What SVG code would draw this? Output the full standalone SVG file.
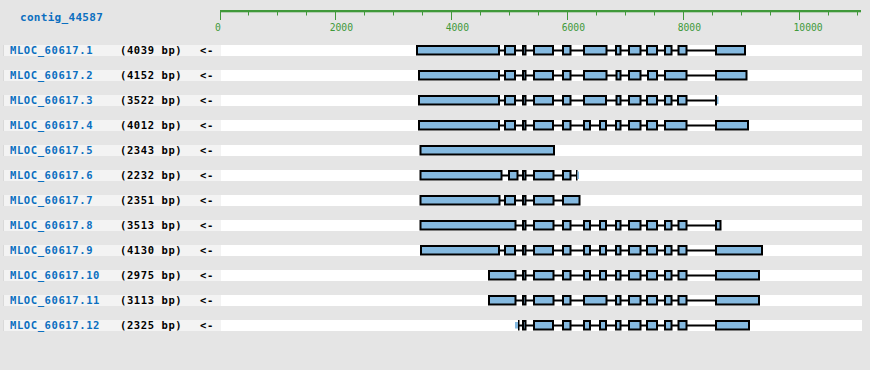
<svg xmlns="http://www.w3.org/2000/svg" width="870" height="370" viewBox="0 0 870 370">
<style>
.bg{fill:#e5e5e5}
.ls{fill:#f3f3f3}
.le{fill:#d9d9d9}
.ws{fill:#ffffff}
.ax{fill:#40993a}
.tk{stroke:#40993a;stroke-width:1;fill:none}
.tl{font-family:"DejaVu Sans Mono","Liberation Mono",monospace;font-size:9.7px;fill:#40993a}
.nm{font-family:"DejaVu Sans Mono","Liberation Mono",monospace;font-size:10.5px;font-weight:bold;letter-spacing:0.6px;fill:#0b6fc0}
.bp{font-family:"DejaVu Sans Mono","Liberation Mono",monospace;font-size:10.5px;font-weight:bold;letter-spacing:0.6px;fill:#000}
.ct{font-family:"DejaVu Sans Mono","Liberation Mono",monospace;font-size:11px;font-weight:bold;letter-spacing:0.3px;fill:#0b6fc0}
.ex{fill:#84b9e0;stroke:#000;stroke-width:2}
.ti{fill:#84b9e0}
.tb{fill:#000}
.in{stroke:#000;stroke-width:2;fill:none}
</style>
<defs>
<g id="rowbg">
<rect class="ls" x="3" y="45" width="218" height="11"/>
<rect class="le" x="3" y="45" width="1" height="11"/>
<rect class="ws" x="221" y="45" width="641" height="11"/>
</g>
</defs>
<rect class="bg" x="0" y="0" width="870" height="370"/>
<g id="contig-title"><text class="ct" x="20" y="20.5">contig_44587</text></g>
<g id="ruler">
<rect class="ax" x="220" y="10" width="641" height="2.3"/>
<path class="tk" d="M220.5 12V20M335.5 12V20M451.5 12V20M567.5 12V20M683.5 12V20M799.5 12V20"/>
<path class="tk" d="M248.5 12V15.5M277.5 12V15.5M306.5 12V15.5M364.5 12V15.5M393.5 12V15.5M422.5 12V15.5M480.5 12V15.5M509.5 12V15.5M538.5 12V15.5M596.5 12V15.5M625.5 12V15.5M654.5 12V15.5M712.5 12V15.5M741.5 12V15.5M770.5 12V15.5M828.5 12V15.5M857.5 12V15.5"/>
<text class="tl" x="215" y="30.5">0</text>
<text class="tl" x="329.7" y="30.5">2000</text>
<text class="tl" x="445.7" y="30.5">4000</text>
<text class="tl" x="561.7" y="30.5">6000</text>
<text class="tl" x="677.7" y="30.5">8000</text>
<text class="tl" x="793.5" y="30.5">10000</text>
</g>
<g id="row-backgrounds">
<use href="#rowbg"/>
<use href="#rowbg" y="25"/>
<use href="#rowbg" y="50"/>
<use href="#rowbg" y="75"/>
<use href="#rowbg" y="100"/>
<use href="#rowbg" y="125"/>
<use href="#rowbg" y="150"/>
<use href="#rowbg" y="175"/>
<use href="#rowbg" y="200"/>
<use href="#rowbg" y="225"/>
<use href="#rowbg" y="250"/>
<use href="#rowbg" y="275"/>
</g>
<g id="connectors">
<path class="in" d="M417 50.5H745"/>
<path class="in" d="M419 75.5H746"/>
<path class="in" d="M419 100.5H716"/>
<path class="in" d="M419 125.5H748"/>
<path class="in" d="M420 175.5H577"/>
<path class="in" d="M420 200.5H580"/>
<path class="in" d="M420 225.5H721"/>
<path class="in" d="M421 250.5H762"/>
<path class="in" d="M489 275.5H759"/>
<path class="in" d="M489 300.5H759"/>
<path class="in" d="M518 325.5H749"/>
</g>
<g id="MLOC_60617.1">
<text class="nm" x="10" y="54">MLOC_60617.1</text><text class="bp" x="120" y="54">(4039 bp)</text><text class="bp" x="200" y="54">&lt;-</text>
<rect class="ex" x="417" y="46" width="82" height="8.5"/><rect class="ex" x="505" y="46" width="10" height="8.5"/><rect class="ex" x="523" y="46" width="2.5" height="8.5"/><rect class="ex" x="534" y="46" width="19" height="8.5"/><rect class="ex" x="563" y="46" width="7.5" height="8.5"/><rect class="ex" x="584" y="46" width="22.5" height="8.5"/><rect class="ex" x="616" y="46" width="4.5" height="8.5"/><rect class="ex" x="629" y="46" width="11.5" height="8.5"/><rect class="ex" x="647" y="46" width="10" height="8.5"/><rect class="ex" x="665" y="46" width="6.5" height="8.5"/><rect class="ex" x="678.5" y="46" width="8" height="8.5"/><rect class="ex" x="716" y="46" width="29" height="8.5"/>
</g>
<g id="MLOC_60617.2" transform="translate(0,25)">
<text class="nm" x="10" y="54">MLOC_60617.2</text><text class="bp" x="120" y="54">(4152 bp)</text><text class="bp" x="200" y="54">&lt;-</text>
<rect class="ex" x="419" y="46" width="80" height="8.5"/><rect class="ex" x="505" y="46" width="10" height="8.5"/><rect class="ex" x="523" y="46" width="2.5" height="8.5"/><rect class="ex" x="534" y="46" width="19" height="8.5"/><rect class="ex" x="563" y="46" width="7.5" height="8.5"/><rect class="ex" x="584" y="46" width="22.5" height="8.5"/><rect class="ex" x="616.5" y="46" width="4" height="8.5"/><rect class="ex" x="629" y="46" width="11.5" height="8.5"/><rect class="ex" x="648" y="46" width="9" height="8.5"/><rect class="ex" x="665" y="46" width="21.5" height="8.5"/><rect class="ex" x="716" y="46" width="30.5" height="8.5"/>
</g>
<g id="MLOC_60617.3" transform="translate(0,50)">
<text class="nm" x="10" y="54">MLOC_60617.3</text><text class="bp" x="120" y="54">(3522 bp)</text><text class="bp" x="200" y="54">&lt;-</text>
<rect class="ex" x="419" y="46" width="80" height="8.5"/><rect class="ex" x="505" y="46" width="10" height="8.5"/><rect class="ex" x="523" y="46" width="2.5" height="8.5"/><rect class="ex" x="534" y="46" width="19" height="8.5"/><rect class="ex" x="563" y="46" width="7.5" height="8.5"/><rect class="ex" x="584" y="46" width="22" height="8.5"/><rect class="ex" x="616.5" y="46" width="4" height="8.5"/><rect class="ex" x="629" y="46" width="11.5" height="8.5"/><rect class="ex" x="647" y="46" width="10" height="8.5"/><rect class="ex" x="665" y="46" width="6.5" height="8.5"/><rect class="ex" x="678" y="46" width="8.5" height="8.5"/>
<rect class="tb" x="715" y="45" width="2" height="10.5"/><rect class="ti" x="717" y="46.5" width="1.5" height="7.5"/>
</g>
<g id="MLOC_60617.4" transform="translate(0,75)">
<text class="nm" x="10" y="54">MLOC_60617.4</text><text class="bp" x="120" y="54">(4012 bp)</text><text class="bp" x="200" y="54">&lt;-</text>
<rect class="ex" x="419" y="46" width="80" height="8.5"/><rect class="ex" x="505" y="46" width="10" height="8.5"/><rect class="ex" x="523" y="46" width="2.5" height="8.5"/><rect class="ex" x="534" y="46" width="19" height="8.5"/><rect class="ex" x="563" y="46" width="7.5" height="8.5"/><rect class="ex" x="584" y="46" width="6" height="8.5"/><rect class="ex" x="600" y="46" width="6" height="8.5"/><rect class="ex" x="616" y="46" width="4.5" height="8.5"/><rect class="ex" x="629" y="46" width="11.5" height="8.5"/><rect class="ex" x="647" y="46" width="10" height="8.5"/><rect class="ex" x="665" y="46" width="21.5" height="8.5"/><rect class="ex" x="716" y="46" width="32" height="8.5"/>
</g>
<g id="MLOC_60617.5" transform="translate(0,100)">
<text class="nm" x="10" y="54">MLOC_60617.5</text><text class="bp" x="120" y="54">(2343 bp)</text><text class="bp" x="200" y="54">&lt;-</text>
<rect class="ex" x="420.5" y="46" width="133.5" height="8.5"/>
</g>
<g id="MLOC_60617.6" transform="translate(0,125)">
<text class="nm" x="10" y="54">MLOC_60617.6</text><text class="bp" x="120" y="54">(2232 bp)</text><text class="bp" x="200" y="54">&lt;-</text>
<rect class="ex" x="420.5" y="46" width="81" height="8.5"/><rect class="ex" x="509" y="46" width="8.5" height="8.5"/><rect class="ex" x="523" y="46" width="2.5" height="8.5"/><rect class="ex" x="534" y="46" width="19.5" height="8.5"/><rect class="ex" x="563" y="46" width="7.5" height="8.5"/>
<rect class="tb" x="576" y="45" width="1.5" height="10.5"/><rect class="ti" x="577.5" y="46.5" width="1.5" height="7.5"/>
</g>
<g id="MLOC_60617.7" transform="translate(0,150)">
<text class="nm" x="10" y="54">MLOC_60617.7</text><text class="bp" x="120" y="54">(2351 bp)</text><text class="bp" x="200" y="54">&lt;-</text>
<rect class="ex" x="420.5" y="46" width="79" height="8.5"/><rect class="ex" x="505" y="46" width="10" height="8.5"/><rect class="ex" x="523" y="46" width="2.5" height="8.5"/><rect class="ex" x="534" y="46" width="19.5" height="8.5"/><rect class="ex" x="563" y="46" width="16.5" height="8.5"/>
</g>
<g id="MLOC_60617.8" transform="translate(0,175)">
<text class="nm" x="10" y="54">MLOC_60617.8</text><text class="bp" x="120" y="54">(3513 bp)</text><text class="bp" x="200" y="54">&lt;-</text>
<rect class="ex" x="420.5" y="46" width="95" height="8.5"/><rect class="ex" x="523" y="46" width="2.5" height="8.5"/><rect class="ex" x="534" y="46" width="19.5" height="8.5"/><rect class="ex" x="563" y="46" width="7.5" height="8.5"/><rect class="ex" x="584" y="46" width="6" height="8.5"/><rect class="ex" x="600" y="46" width="6" height="8.5"/><rect class="ex" x="616" y="46" width="4.5" height="8.5"/><rect class="ex" x="629" y="46" width="11.5" height="8.5"/><rect class="ex" x="647" y="46" width="10" height="8.5"/><rect class="ex" x="665" y="46" width="6.5" height="8.5"/><rect class="ex" x="678.5" y="46" width="8" height="8.5"/><rect class="ex" x="716" y="46" width="4.5" height="8.5"/>
</g>
<g id="MLOC_60617.9" transform="translate(0,200)">
<text class="nm" x="10" y="54">MLOC_60617.9</text><text class="bp" x="120" y="54">(4130 bp)</text><text class="bp" x="200" y="54">&lt;-</text>
<rect class="ex" x="421" y="46" width="78" height="8.5"/><rect class="ex" x="505" y="46" width="10" height="8.5"/><rect class="ex" x="523" y="46" width="2.5" height="8.5"/><rect class="ex" x="534" y="46" width="19" height="8.5"/><rect class="ex" x="563" y="46" width="7.5" height="8.5"/><rect class="ex" x="584" y="46" width="6" height="8.5"/><rect class="ex" x="600" y="46" width="6" height="8.5"/><rect class="ex" x="616" y="46" width="4.5" height="8.5"/><rect class="ex" x="629" y="46" width="11.5" height="8.5"/><rect class="ex" x="647" y="46" width="10" height="8.5"/><rect class="ex" x="665" y="46" width="6.5" height="8.5"/><rect class="ex" x="678.5" y="46" width="8" height="8.5"/><rect class="ex" x="716" y="46" width="46" height="8.5"/>
</g>
<g id="MLOC_60617.10" transform="translate(0,225)">
<text class="nm" x="10" y="54">MLOC_60617.10</text><text class="bp" x="120" y="54">(2975 bp)</text><text class="bp" x="200" y="54">&lt;-</text>
<rect class="ex" x="489" y="46" width="26.5" height="8.5"/><rect class="ex" x="523" y="46" width="2.5" height="8.5"/><rect class="ex" x="534" y="46" width="19.5" height="8.5"/><rect class="ex" x="563" y="46" width="7.5" height="8.5"/><rect class="ex" x="584" y="46" width="6" height="8.5"/><rect class="ex" x="600" y="46" width="6" height="8.5"/><rect class="ex" x="616" y="46" width="4.5" height="8.5"/><rect class="ex" x="629" y="46" width="11.5" height="8.5"/><rect class="ex" x="647" y="46" width="10" height="8.5"/><rect class="ex" x="665" y="46" width="6.5" height="8.5"/><rect class="ex" x="678.5" y="46" width="8" height="8.5"/><rect class="ex" x="716" y="46" width="43" height="8.5"/>
</g>
<g id="MLOC_60617.11" transform="translate(0,250)">
<text class="nm" x="10" y="54">MLOC_60617.11</text><text class="bp" x="120" y="54">(3113 bp)</text><text class="bp" x="200" y="54">&lt;-</text>
<rect class="ex" x="489" y="46" width="26.5" height="8.5"/><rect class="ex" x="523" y="46" width="2.5" height="8.5"/><rect class="ex" x="534" y="46" width="19.5" height="8.5"/><rect class="ex" x="563" y="46" width="7.5" height="8.5"/><rect class="ex" x="584" y="46" width="22.5" height="8.5"/><rect class="ex" x="616" y="46" width="4.5" height="8.5"/><rect class="ex" x="629" y="46" width="11.5" height="8.5"/><rect class="ex" x="647" y="46" width="10" height="8.5"/><rect class="ex" x="665" y="46" width="6.5" height="8.5"/><rect class="ex" x="678.5" y="46" width="8" height="8.5"/><rect class="ex" x="716" y="46" width="43" height="8.5"/>
</g>
<g id="MLOC_60617.12" transform="translate(0,275)">
<text class="nm" x="10" y="54">MLOC_60617.12</text><text class="bp" x="120" y="54">(2325 bp)</text><text class="bp" x="200" y="54">&lt;-</text>
<rect class="ti" x="515" y="47" width="3" height="6.5"/><rect class="tb" x="518" y="45" width="1.5" height="10.5"/>
<rect class="ex" x="523" y="46" width="2.5" height="8.5"/><rect class="ex" x="534" y="46" width="19" height="8.5"/><rect class="ex" x="563" y="46" width="7.5" height="8.5"/><rect class="ex" x="584" y="46" width="6" height="8.5"/><rect class="ex" x="600" y="46" width="6" height="8.5"/><rect class="ex" x="616" y="46" width="4.5" height="8.5"/><rect class="ex" x="629" y="46" width="11.5" height="8.5"/><rect class="ex" x="647" y="46" width="10" height="8.5"/><rect class="ex" x="665" y="46" width="6.5" height="8.5"/><rect class="ex" x="678.5" y="46" width="8" height="8.5"/><rect class="ex" x="716" y="46" width="33" height="8.5"/>
</g>
</svg>
